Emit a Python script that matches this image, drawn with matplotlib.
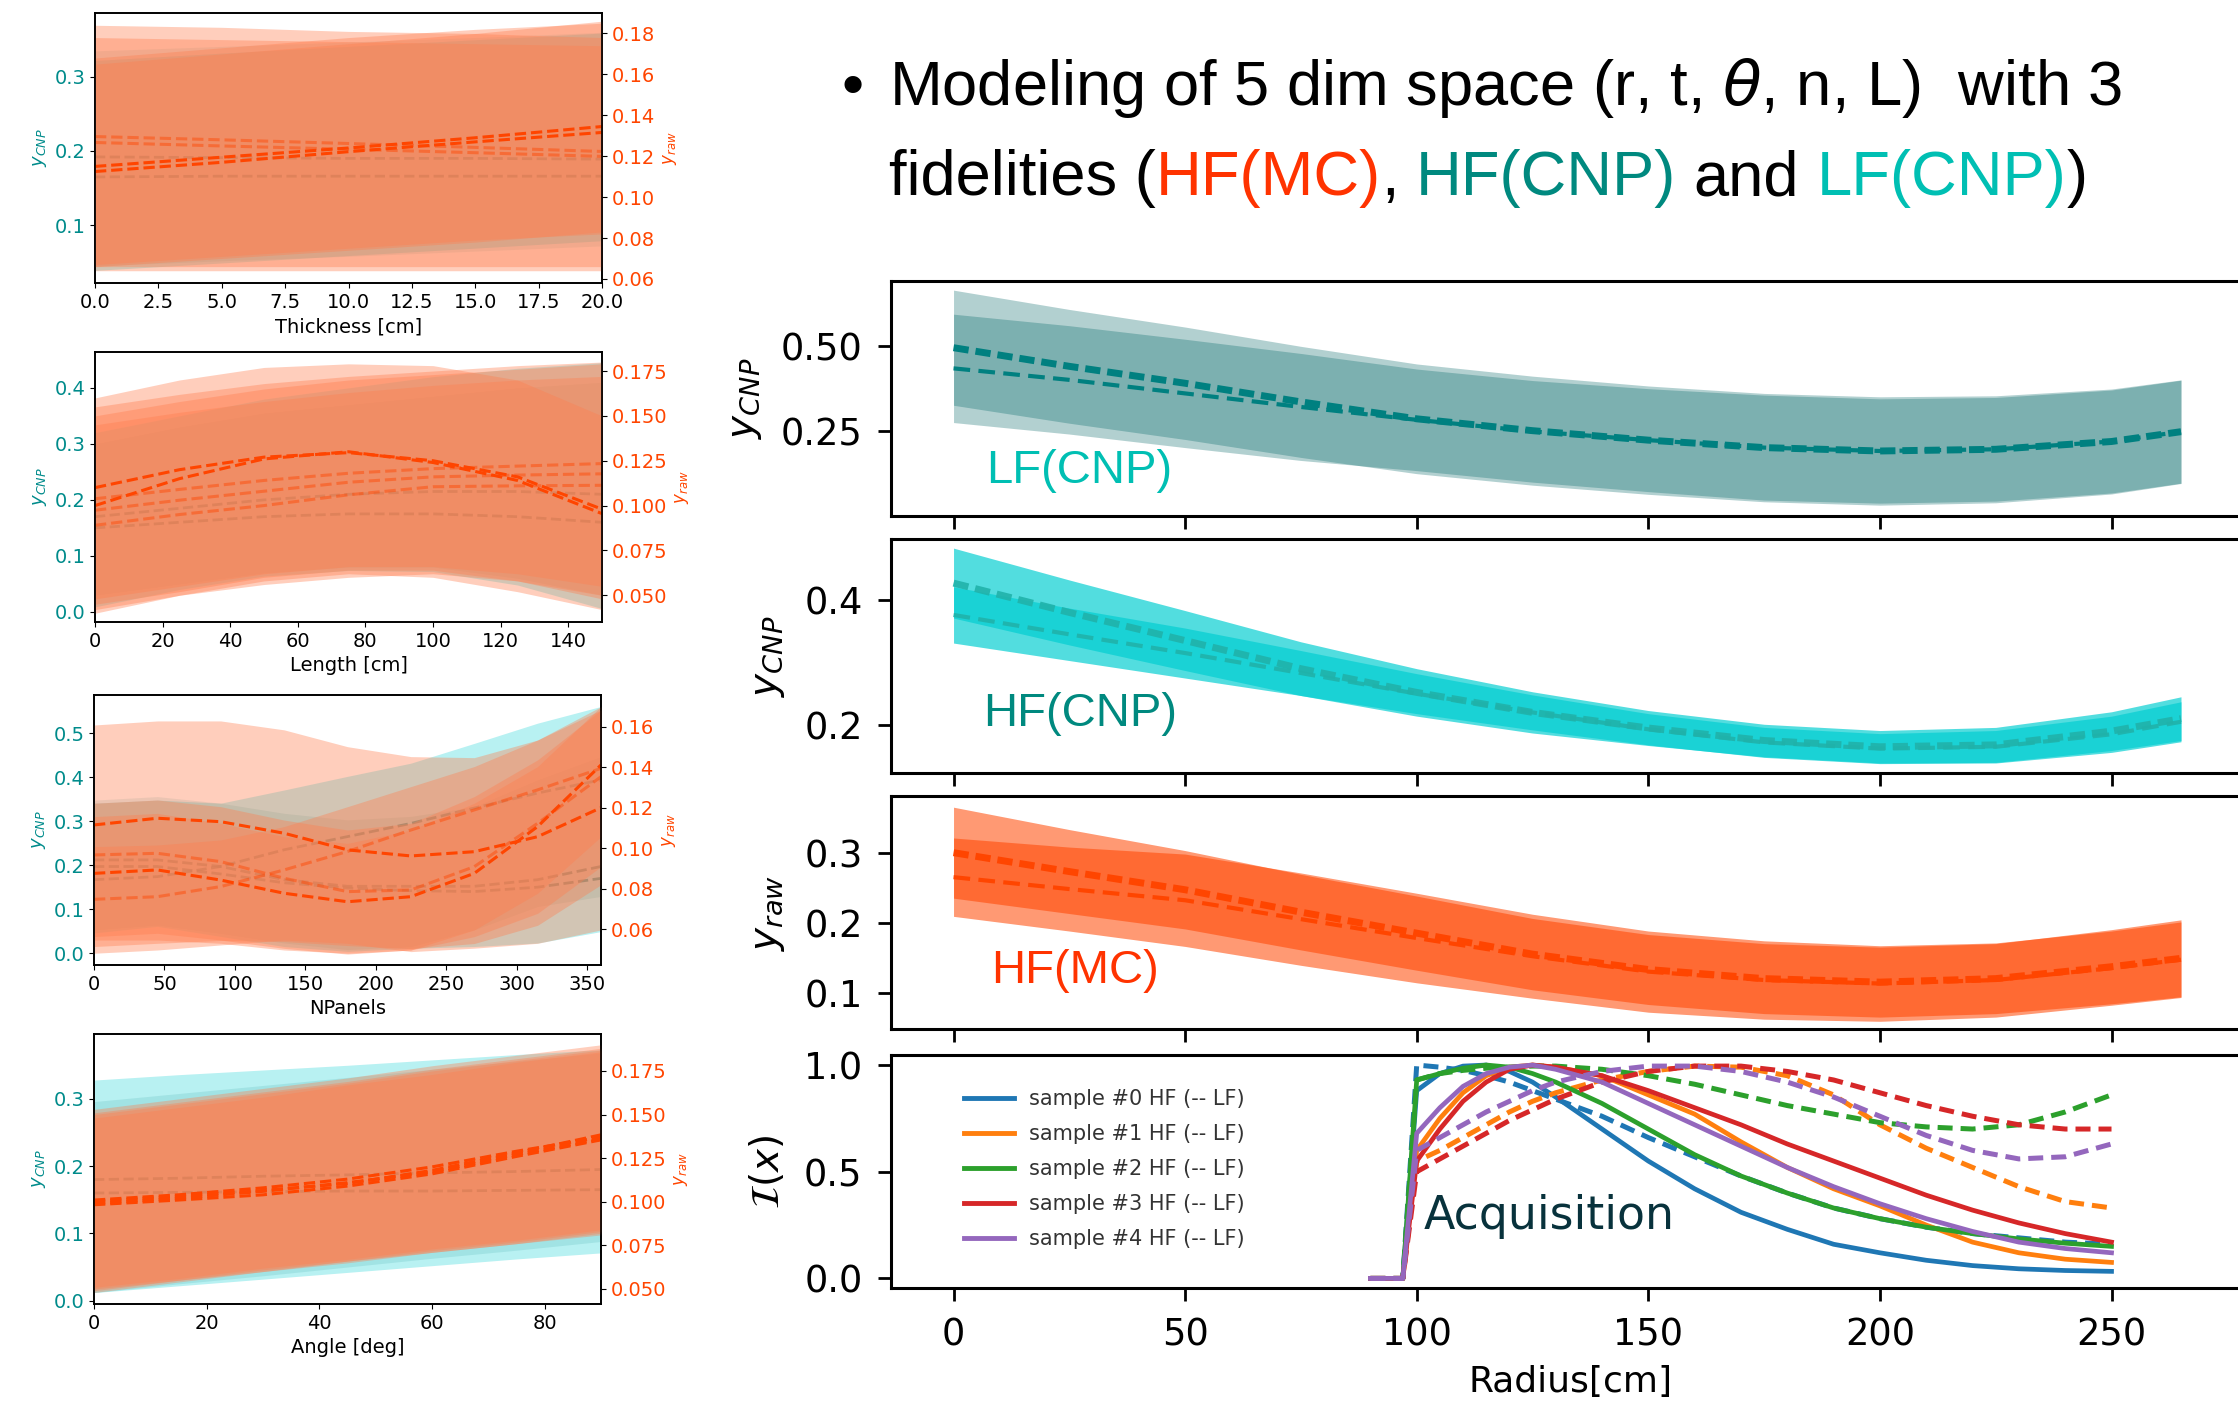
import numpy as np
import matplotlib
matplotlib.use('Agg')
import matplotlib.pyplot as plt
from matplotlib.lines import Line2D

W, H = 2238, 1407

# ---------------- left column: 1-D slices (CNP on left axis, raw on right axis)
thk_x = [0, 5, 10, 15, 20]
thk_cnp_lo = [[0.039, 0.049, 0.059, 0.069, 0.079], [0.045, 0.052, 0.058, 0.065, 0.072]]
thk_cnp_hi = [[0.322, 0.332, 0.341, 0.350, 0.359], [0.335, 0.341, 0.347, 0.353, 0.360]]
thk_cnp_mu = [[0.192, 0.191, 0.190, 0.190, 0.189], [0.165, 0.166, 0.166, 0.166, 0.166]]
thk_raw_lo = [[0.064, 0.064, 0.064, 0.064, 0.064], [0.066, 0.070, 0.074, 0.078, 0.083],
              [0.067, 0.071, 0.075, 0.079, 0.082], [0.066, 0.066, 0.066, 0.066, 0.066]]
thk_raw_hi = [[0.184, 0.183, 0.181, 0.180, 0.178], [0.165, 0.170, 0.175, 0.180, 0.186],
              [0.168, 0.173, 0.178, 0.182, 0.185], [0.178, 0.177, 0.176, 0.175, 0.174]]
thk_raw_mu = [[0.115, 0.1195, 0.124, 0.129, 0.1345], [0.1125, 0.117, 0.1222, 0.127, 0.1316],
              [0.1296, 0.128, 0.1262, 0.1243, 0.1223], [0.1267, 0.125, 0.1234, 0.1217, 0.1199]]

len_x = [0, 25, 50, 75, 100, 125, 150]
len_cnp_lo = [[0.009, 0.040, 0.064, 0.074, 0.072, 0.048, 0.006], [0.030, 0.050, 0.070, 0.080, 0.080, 0.060, 0.030]]
len_cnp_hi = [[0.320, 0.350, 0.380, 0.400, 0.420, 0.435, 0.445], [0.300, 0.330, 0.355, 0.370, 0.385, 0.400, 0.410]]
len_cnp_mu = [[0.170, 0.185, 0.200, 0.210, 0.215, 0.215, 0.210], [0.150, 0.160, 0.170, 0.175, 0.175, 0.170, 0.160]]
len_raw_lo = [[0.040, 0.050, 0.058, 0.062, 0.060, 0.052, 0.042], [0.045, 0.052, 0.060, 0.064, 0.064, 0.058, 0.048],
              [0.042, 0.050, 0.056, 0.060, 0.062, 0.058, 0.050], [0.048, 0.055, 0.062, 0.066, 0.066, 0.062, 0.055]]
len_raw_hi = [[0.160, 0.170, 0.177, 0.179, 0.178, 0.170, 0.150], [0.155, 0.162, 0.168, 0.172, 0.175, 0.178, 0.180],
              [0.150, 0.158, 0.165, 0.170, 0.173, 0.176, 0.179], [0.145, 0.152, 0.158, 0.163, 0.167, 0.170, 0.172]]
len_raw_mu = [[0.100, 0.115, 0.126, 0.130, 0.124, 0.114, 0.0955], [0.110, 0.120, 0.127, 0.1295, 0.125, 0.116, 0.098],
              [0.1038, 0.109, 0.114, 0.118, 0.1206, 0.122, 0.1234], [0.0974, 0.103, 0.108, 0.113, 0.116, 0.117, 0.1177],
              [0.089, 0.095, 0.100, 0.106, 0.1105, 0.111, 0.1113]]

npn_x = [0, 45, 90, 135, 180, 225, 270, 315, 360]
npn_cnp_lo = [[0.046, 0.061, 0.038, 0.015, 0.004, 0.011, 0.015, 0.023, 0.049],
              [0.053, 0.064, 0.045, 0.023, 0.008, 0.015, 0.053, 0.106, 0.129]]
npn_cnp_hi = [[0.341, 0.348, 0.341, 0.371, 0.402, 0.432, 0.477, 0.523, 0.561],
              [0.348, 0.356, 0.341, 0.318, 0.303, 0.311, 0.333, 0.394, 0.447]]
npn_cnp_mu = [[0.167, 0.174, 0.197, 0.235, 0.265, 0.295, 0.330, 0.364, 0.394],
              [0.212, 0.212, 0.197, 0.167, 0.152, 0.152, 0.152, 0.167, 0.197],
              [0.197, 0.197, 0.180, 0.160, 0.148, 0.142, 0.140, 0.150, 0.170]]
npn_raw_lo = [[0.0482, 0.0498, 0.0523, 0.0547, 0.0531, 0.0490, 0.0507, 0.0531, 0.0597],
              [0.0564, 0.0580, 0.0547, 0.0506, 0.0478, 0.0498, 0.0597, 0.0778, 0.1057],
              [0.0515, 0.0531, 0.0545, 0.0540, 0.0520, 0.0505, 0.0530, 0.0620, 0.0820],
              [0.0547, 0.0547, 0.0531, 0.0498, 0.0482, 0.0498, 0.0564, 0.0679, 0.0909]]
npn_raw_hi = [[0.1608, 0.1628, 0.1628, 0.1584, 0.1501, 0.1452, 0.1447, 0.1534, 0.1699],
              [0.1156, 0.1172, 0.1123, 0.1057, 0.1024, 0.1090, 0.1222, 0.1403, 0.1699],
              [0.1008, 0.1016, 0.1041, 0.1107, 0.1205, 0.1304, 0.1403, 0.1534, 0.1682],
              [0.1222, 0.1238, 0.1205, 0.1139, 0.1090, 0.1123, 0.1255, 0.1436, 0.1682]]
npn_raw_mu = [[0.1115, 0.1148, 0.1131, 0.1074, 0.0992, 0.0962, 0.0983, 0.1057, 0.1200],
              [0.0876, 0.0893, 0.0843, 0.0778, 0.0736, 0.0761, 0.0876, 0.1107, 0.1411],
              [0.0748, 0.0761, 0.0811, 0.0893, 0.0984, 0.1090, 0.1189, 0.1288, 0.1394],
              [0.0967, 0.0975, 0.0934, 0.0852, 0.0786, 0.0794, 0.0909, 0.1123, 0.1353]]

ang_x = [0, 15, 30, 45, 60, 75, 90]
ang_cnp_lo = [[0.012, 0.022, 0.032, 0.042, 0.052, 0.062, 0.071], [0.012, 0.025, 0.037, 0.050, 0.063, 0.075, 0.088]]
ang_cnp_hi = [[0.328, 0.336, 0.343, 0.350, 0.358, 0.366, 0.373], [0.296, 0.308, 0.320, 0.332, 0.344, 0.356, 0.368]]
ang_cnp_mu = [[0.180, 0.182, 0.185, 0.187, 0.190, 0.192, 0.195], [0.160, 0.161, 0.162, 0.163, 0.163, 0.164, 0.165]]
ang_raw_lo = [[0.048, 0.054, 0.060, 0.065, 0.071, 0.076, 0.082], [0.049, 0.055, 0.061, 0.066, 0.072, 0.077, 0.083],
              [0.050, 0.055, 0.060, 0.066, 0.071, 0.076, 0.081], [0.051, 0.056, 0.062, 0.067, 0.073, 0.078, 0.084]]
ang_raw_hi = [[0.153, 0.159, 0.165, 0.171, 0.178, 0.184, 0.190], [0.150, 0.156, 0.162, 0.168, 0.175, 0.181, 0.187],
              [0.148, 0.154, 0.160, 0.167, 0.173, 0.180, 0.186], [0.151, 0.157, 0.163, 0.169, 0.176, 0.182, 0.188]]
ang_raw_mu = [[0.1002, 0.103, 0.1065, 0.1105, 0.118, 0.128, 0.1384], [0.0983, 0.101, 0.104, 0.109, 0.116, 0.126, 0.1355],
              [0.101, 0.104, 0.108, 0.113, 0.120, 0.129, 0.137], [0.099, 0.102, 0.106, 0.111, 0.117, 0.127, 0.136]]

# ---------------- right column: predictions along radius
radius = [0, 25, 50, 75, 100, 125, 150, 175, 200, 225, 250, 265]
lf_cnp_mu = [[0.495, 0.440, 0.390, 0.335, 0.285, 0.250, 0.222, 0.200, 0.190, 0.195, 0.218, 0.247],
             [0.434, 0.400, 0.360, 0.320, 0.282, 0.248, 0.222, 0.200, 0.190, 0.195, 0.218, 0.247]]
lf_cnp_hw = [[0.170, 0.168, 0.166, 0.164, 0.162, 0.161, 0.160, 0.160, 0.160, 0.158, 0.155, 0.153],
             [0.160, 0.160, 0.160, 0.158, 0.150, 0.150, 0.152, 0.155, 0.154, 0.153, 0.152, 0.152]]
hf_cnp_mu = [[0.427, 0.380, 0.335, 0.290, 0.252, 0.220, 0.195, 0.175, 0.165, 0.168, 0.190, 0.210],
             [0.376, 0.345, 0.315, 0.283, 0.250, 0.220, 0.193, 0.172, 0.162, 0.165, 0.185, 0.205]]
hf_cnp_hw = [[0.056, 0.052, 0.048, 0.043, 0.038, 0.033, 0.028, 0.026, 0.026, 0.028, 0.031, 0.035],
             [0.045, 0.042, 0.040, 0.036, 0.032, 0.028, 0.025, 0.024, 0.024, 0.026, 0.029, 0.032]]
hf_mc_mu = [[0.300, 0.273, 0.247, 0.215, 0.185, 0.155, 0.133, 0.120, 0.115, 0.120, 0.137, 0.149],
            [0.265, 0.248, 0.232, 0.205, 0.178, 0.152, 0.130, 0.118, 0.113, 0.118, 0.135, 0.147]]
hf_mc_hw = [[0.065, 0.060, 0.056, 0.054, 0.053, 0.051, 0.050, 0.050, 0.050, 0.050, 0.053, 0.055],
            [0.056, 0.060, 0.066, 0.066, 0.064, 0.060, 0.058, 0.056, 0.054, 0.053, 0.053, 0.054]]

acq_r = [90, 97, 100, 105, 110, 115, 120, 125, 130, 140, 150, 160, 170, 180, 190, 200, 210, 220, 230, 240, 250]
acq_hf = [
    [0, 0, 0.88, 0.96, 0.995, 1.0, 0.97, 0.92, 0.85, 0.70, 0.55, 0.42, 0.31, 0.23, 0.16, 0.12, 0.085, 0.06, 0.045, 0.037, 0.033],
    [0, 0, 0.60, 0.75, 0.87, 0.95, 0.99, 1.0, 0.99, 0.95, 0.86, 0.77, 0.64, 0.52, 0.42, 0.34, 0.25, 0.17, 0.12, 0.09, 0.075],
    [0, 0, 0.93, 0.96, 0.985, 1.0, 0.99, 0.96, 0.92, 0.82, 0.70, 0.58, 0.48, 0.40, 0.33, 0.28, 0.24, 0.21, 0.185, 0.165, 0.15],
    [0, 0, 0.55, 0.70, 0.83, 0.92, 0.98, 1.0, 0.99, 0.95, 0.88, 0.80, 0.72, 0.63, 0.55, 0.47, 0.39, 0.32, 0.26, 0.21, 0.17],
    [0, 0, 0.68, 0.80, 0.90, 0.96, 0.99, 1.0, 0.98, 0.92, 0.82, 0.72, 0.62, 0.52, 0.43, 0.35, 0.28, 0.22, 0.17, 0.14, 0.12],
]
acq_lf = [
    [0, 0, 1.0, 0.99, 0.975, 0.95, 0.92, 0.88, 0.84, 0.76, 0.66, 0.57, 0.48, 0.40, 0.33, 0.28, 0.24, 0.21, 0.19, 0.17, 0.16],
    [0, 0, 0.55, 0.60, 0.66, 0.72, 0.78, 0.83, 0.87, 0.93, 0.97, 0.995, 0.99, 0.95, 0.86, 0.72, 0.61, 0.52, 0.43, 0.36, 0.33],
    [0, 0, 0.93, 0.96, 0.975, 0.985, 0.99, 0.995, 0.995, 0.98, 0.95, 0.91, 0.86, 0.81, 0.77, 0.73, 0.71, 0.70, 0.72, 0.78, 0.86],
    [0, 0, 0.50, 0.56, 0.62, 0.68, 0.74, 0.79, 0.84, 0.92, 0.97, 0.995, 0.995, 0.97, 0.93, 0.87, 0.81, 0.76, 0.72, 0.70, 0.70],
    [0, 0, 0.60, 0.66, 0.72, 0.78, 0.83, 0.88, 0.92, 0.97, 0.995, 0.995, 0.97, 0.92, 0.85, 0.76, 0.67, 0.60, 0.56, 0.57, 0.63],
]
acq_labels = ['sample #%d HF (-- LF)' % k for k in range(5)]

C_MC = '#ff3300'
C_HFCNP = '#00897f'
C_LFCNP = '#00bfb3'
TITLE_SIZE = 45.5

fig = plt.figure(figsize=(W / 100, H / 100), dpi=100)


def box(x0, y0, x1, y1):
    return [x0 / W, 1 - y1 / H, (x1 - x0) / W, (y1 - y0) / H]


def slice_panel(rect, x, cnp_lo, cnp_hi, cnp_mu, raw_lo, raw_hi, raw_mu, n_strong,
                xlabel, xticks, ylim_l, yticks_l, ylim_r, yticks_r):
    ax = fig.add_axes(rect)
    cols = [('darkturquoise', 0.28), ('teal', 0.12)]
    for k in range(len(cnp_lo)):
        c, a = cols[k % 2]
        ax.fill_between(x, cnp_lo[k], cnp_hi[k], color=c, alpha=a, lw=0)
    for mu in cnp_mu:
        ax.plot(x, mu, '--', color='teal', lw=2, alpha=0.7)
    ax.set_xlim(x[0], x[-1])
    ax.set_ylim(*ylim_l)
    ax.set_xticks(xticks)
    ax.set_yticks(yticks_l)
    ax.tick_params(labelsize=14)
    ax.tick_params(axis='y', labelcolor='darkcyan')
    ax.set_xlabel(xlabel, fontsize=14, labelpad=4)
    ax.set_ylabel('$y_{CNP}$', color='darkcyan', fontsize=13)
    ax2 = ax.twinx()
    for k in range(len(raw_lo)):
        ax2.fill_between(x, raw_lo[k], raw_hi[k], color='coral', alpha=0.38, lw=0)
    for k, mu in enumerate(raw_mu):
        ax2.plot(x, mu, '--', color='orangered', lw=2.2, alpha=1.0 if k < n_strong else 0.45)
    ax2.set_ylim(*ylim_r)
    ax2.set_yticks(yticks_r)
    ax2.tick_params(labelsize=14, labelcolor='orangered')
    ax2.set_ylabel('$y_{raw}$', color='orangered', fontsize=12)
    for a in (ax, ax2):
        for s in a.spines.values():
            s.set_linewidth(1.2)


slice_panel(box(95, 13, 602, 283), thk_x, thk_cnp_lo, thk_cnp_hi, thk_cnp_mu,
            thk_raw_lo, thk_raw_hi, thk_raw_mu, 2, 'Thickness [cm]', np.arange(0, 20.1, 2.5),
            (0.022, 0.386), [0.1, 0.2, 0.3], (0.058, 0.190), np.arange(0.06, 0.181, 0.02))
slice_panel(box(95, 352, 602, 622), len_x, len_cnp_lo, len_cnp_hi, len_cnp_mu,
            len_raw_lo, len_raw_hi, len_raw_mu, 2, 'Length [cm]', np.arange(0, 141, 20),
            (-0.018, 0.464), [0.0, 0.1, 0.2, 0.3, 0.4], (0.0351, 0.1856), np.arange(0.05, 0.176, 0.025))
slice_panel(box(94, 695, 601, 965), npn_x, npn_cnp_lo, npn_cnp_hi, npn_cnp_mu,
            npn_raw_lo, npn_raw_hi, npn_raw_mu, 2, 'NPanels', np.arange(0, 351, 50),
            (-0.027, 0.587), [0.0, 0.1, 0.2, 0.3, 0.4, 0.5], (0.0424, 0.1756), np.arange(0.06, 0.161, 0.02))
slice_panel(box(94, 1034, 601, 1304), ang_x, ang_cnp_lo, ang_cnp_hi, ang_cnp_mu,
            ang_raw_lo, ang_raw_hi, ang_raw_mu, 4, 'Angle [deg]', np.arange(0, 81, 20),
            (-0.005, 0.3965), [0.0, 0.1, 0.2, 0.3], (0.0414, 0.1962), np.arange(0.05, 0.176, 0.025))


# ---------------- right column
def style_right(ax, ylim, yticks, ylabel, show_x):
    ax.set_xlim(-13.5, 279.9)
    ax.set_ylim(*ylim)
    ax.set_xticks([0, 50, 100, 150, 200, 250])
    ax.set_yticks(yticks)
    ax.tick_params(labelsize=26.5, length=9.5, width=2, pad=11)
    if not show_x:
        ax.tick_params(axis='x', labelbottom=False)
    ax.set_ylabel(ylabel, fontsize=28, labelpad=12)
    for s in ax.spines.values():
        s.set_linewidth(2.2)


def gp_panel(rect, mus, hws, color, alpha, line_color, line_alpha, ylim, yticks, ylabel, tag, tag_color, tag_xy):
    ax = fig.add_axes(rect)
    r = np.array(radius)
    for mu, hw in zip(mus, hws):
        mu, hw = np.array(mu), np.array(hw)
        ax.fill_between(r, mu - hw, mu + hw, color=color, alpha=alpha, lw=0)
    ax.plot(r, mus[0], color=line_color, alpha=line_alpha, lw=5, ls=(0, (2.2, 1.0)))
    ax.plot(r, mus[1], color=line_color, alpha=line_alpha, lw=3, ls=(0, (4, 2)))
    ax.text(tag_xy[0], tag_xy[1], tag, color=tag_color, fontsize=34, family='Liberation Sans', va='center')
    style_right(ax, ylim, yticks, ylabel, False)
    return ax


gp_panel(box(891, 281, 2250, 516), lf_cnp_mu, lf_cnp_hw, '#006666', 0.3, 'teal', 1.0,
         (-0.002, 0.692), [0.25, 0.50], '$y_{CNP}$', 'LF(CNP)', C_LFCNP, (7, 0.131))
gp_panel(box(891, 539, 2250, 773), hf_cnp_mu, hf_cnp_hw, 'darkturquoise', 0.68, 'lightseagreen', 0.9,
         (0.123, 0.4976), [0.2, 0.4], '$y_{CNP}$', 'HF(CNP)', C_HFCNP, (6.3, 0.218))
gp_panel(box(891, 796, 2250, 1029), hf_mc_mu, hf_mc_hw, 'orangered', 0.55, 'orangered', 1.0,
         (0.048, 0.381), [0.1, 0.2, 0.3], '$y_{raw}$', 'HF(MC)', C_MC, (8.1, 0.1316))

axd = fig.add_axes(box(891, 1055, 2250, 1288))
handles = []
for k in range(5):
    c = 'C%d' % k
    axd.plot(acq_r, acq_hf[k], color=c, lw=3.4)
    axd.plot(acq_r, acq_lf[k], color=c, lw=3.6, ls=(0, (3, 1.6)))
    handles.append(Line2D([], [], color=c, lw=3.5))
axd.legend(handles, acq_labels, loc='upper left', bbox_to_anchor=(0.04, 0.935), frameon=False,
           fontsize=15, labelspacing=0.72, handlelength=2.4, handletextpad=0.7, labelcolor='#333333')
axd.text(101.6, 0.292, 'Acquisition', color='#08323c', fontsize=33, va='center')
style_right(axd, (-0.045, 1.047), [0.0, 0.5, 1.0], r'$\mathcal{I}(x)$', True)
axd.set_xlabel('Radius[cm]', fontsize=26, labelpad=8)

# ---------------- bullet title
fig.text(842 / W, 1 - 105 / H, '\u2022', fontsize=TITLE_SIZE, family='Liberation Sans', va='baseline')
fig.text(889 / W, 1 - 105 / H, r'Modeling of 5 dim space (r, t, $\theta$, n, L)  with 3',
         fontsize=TITLE_SIZE, family='Liberation Sans', va='baseline')

renderer = fig.canvas.get_renderer()


def text_width(s):
    t = fig.text(0, 0, s, fontsize=TITLE_SIZE, family='Liberation Sans')
    w = t.get_window_extent(renderer=renderer).width
    t.remove()
    return w


space = text_width('a a') - text_width('aa')
parts = [('fidelities (', 'black', 0), ('HF(MC)', C_MC, 0), (',', 'black', 0),
         ('HF(CNP)', C_HFCNP, 1), ('and', 'black', 1), ('LF(CNP)', C_LFCNP, 1), (')', 'black', 0)]
xpix = 889
for s, c, gap in parts:
    xpix += gap * space
    t = fig.text(xpix / W, 1 - 195 / H, s, color=c, fontsize=TITLE_SIZE, family='Liberation Sans', va='baseline')
    xpix += t.get_window_extent(renderer=renderer).width

fig.savefig('out.png', dpi=100)
